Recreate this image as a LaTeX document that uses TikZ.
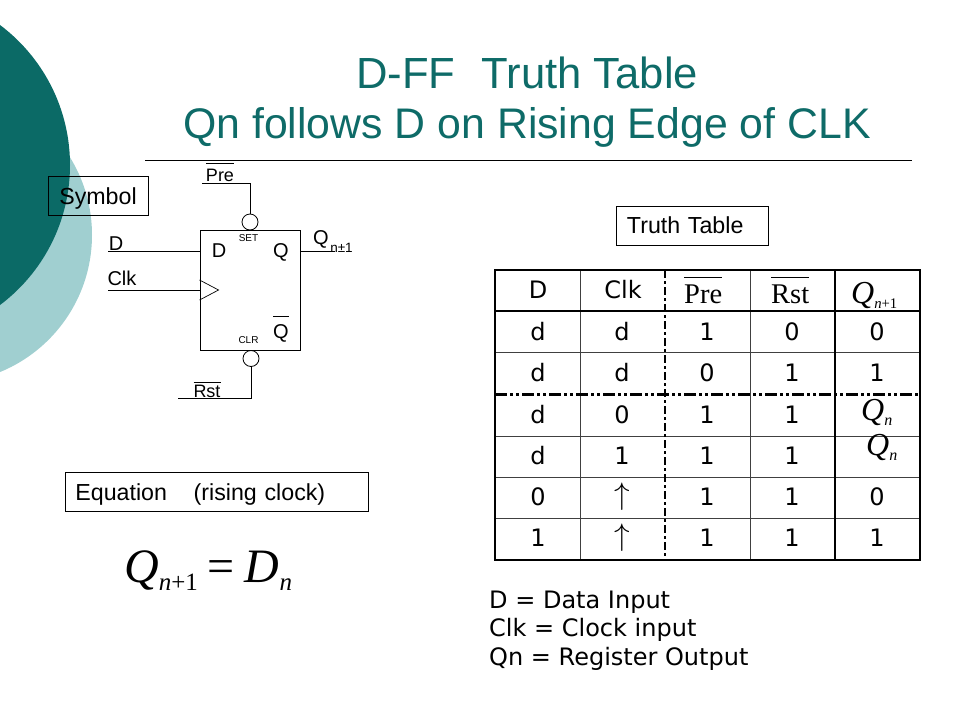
\documentclass[tikz,border=0pt]{standalone}
\usepackage{fontspec}
\setmainfont{Liberation Sans}
\newfontfamily\verdanaish{DejaVu Sans}
\newfontfamily\timesish{Liberation Serif}
\usetikzlibrary{calc}
\definecolor{darkteal}{HTML}{0B6A66}
\definecolor{lightteal}{HTML}{A0CFD0}
\definecolor{titleteal}{HTML}{0E6B68}
\newcommand{\lowtext}[2]{\raisebox{-0.18em}{\scalebox{#1}{#2}}}
\newcommand{\barred}[2]{\setbox0=\hbox{#2}\rlap{\rule[#1]{\wd0}{0.8pt}}\box0}
\newcommand{\risearrow}{\scalebox{1.25}{$\uparrow$}}
\tikzset{
  titletext/.style={text=titleteal,font=\fontsize{42.8}{52}\selectfont,inner sep=0pt},
  labelbox/.style={draw,line width=0.9pt,font=\fontsize{23.2}{26}\selectfont,inner ysep=0pt,minimum height=39pt,text height=19pt,text depth=3pt},
  wirelabel/.style={inner sep=0pt,anchor=base,font=\fontsize{20}{22}\selectfont},
  barlabel/.style={inner sep=0pt,anchor=base,font=\fontsize{18}{22}\selectfont},
  pinlabel/.style={inner sep=0pt,anchor=base,font=\fontsize{10}{11}\selectfont},
  celltext/.style={inner sep=0pt,font=\verdanaish\fontsize{24}{26}\selectfont},
  mathcell/.style={inner sep=0pt,anchor=base west,font=\timesish\fontsize{32}{34}\selectfont},
  bubble/.style={draw,circle,inner sep=0pt,minimum size=16pt,line width=0.8pt},
  wire/.style={line width=0.9pt}
}
\begin{document}
\begin{tikzpicture}[x=1pt,y=-1pt]
\useasboundingbox (0,0) rectangle (960,720);
\begin{scope}
\clip (0,0) rectangle (960,720);
\fill [lightteal] (-56,235) circle [radius=148];
\fill [darkteal] (-105,165) circle [radius=175];
\end{scope}

\node (titleone) [titletext,font=\fontsize{43.6}{52}\selectfont] at (527,73) {D-FF\hspace{14pt} Truth Table};
\node (titletwo) [titletext] at (527,127) {Qn follows D on Rising Edge of CLK};
\coordinate (ruleleft) at (145,160);
\coordinate (ruleright) at (912,160);
\draw [line width=0.7pt] (ruleleft) -- (ruleright);

\node (symbolbox) [labelbox,minimum width=100pt] at (98,196) {Symbol};
\node (truthbox) [labelbox,anchor=west,inner xsep=10.5pt,text width=131pt,align=left] at (616,225.5) {Truth Table};
\node (eqnbox) [labelbox,anchor=west,inner xsep=10.5pt,text width=282pt,align=left] at (64.5,492) {Equation\hspace{19pt} (rising clock)};
\node (eqn) [inner sep=0pt,anchor=base west,font=\timesish\fontsize{48}{50}\selectfont] at (124,582) {\textit{Q}\lowtext{0.52}{\textit{n}+1}\hspace{10pt}=\hspace{10pt}\textit{D}\lowtext{0.52}{\textit{n}}};

% flip flop symbol
\node (ffbox) [draw,line width=0.9pt,minimum width=100pt,minimum height=120pt] at (250,290) {};
\node (prebubble) [bubble] at (250,222) {};
\node (rstbubble) [bubble] at (251,358.5) {};
\coordinate (prestart) at (202,183);
\coordinate (rststart) at (178,398);
\coordinate (dstart) at (108,251);
\coordinate (clkstart) at (108,290);
\coordinate (qend) at (335,251);
\coordinate (dpin) at (ffbox.west |- dstart);
\coordinate (clkpin) at (ffbox.west |- clkstart);
\coordinate (qpin) at (ffbox.east |- qend);
\draw [wire] (prestart) -| (prebubble.north);
\draw [wire] (rststart) -| (rstbubble.south);
\draw [wire] (dstart) -- (dpin);
\draw [wire] (clkstart) -- (clkpin);
\draw [wire] (qpin) -- (qend);
\draw [line width=0.7pt] ($(clkpin)+(0,-10)$) -- ($(clkpin)+(19,0)$) -- ($(clkpin)+(0,10)$);

\node (prelabel) [barlabel] at (220,181) {\barred{17pt}{Pre}};
\node (rstlabel) [barlabel] at (207,397) {\barred{14pt}{Rst}};
\node (dlabel) [wirelabel] at (116,250) {D};
\node (clklabel) [wirelabel] at (122,285) {Clk};
\node (setlabel) [pinlabel] at (248.5,241) {SET};
\node (clrlabel) [pinlabel] at (248.5,343) {CLR};
\node (dinside) [wirelabel] at (219,257) {D};
\node (qinside) [wirelabel] at (281,257.5) {Q};
\node (qbarinside) [wirelabel] at (281,338) {\barred{21pt}{Q}};
\node (qlabel) [wirelabel,anchor=base west] at (313,244) {Q\hspace{1.5pt}\raisebox{-8pt}{\fontsize{13.5}{15}\selectfont n±1}};

% truth table
\foreach \ypos in {352,436,477,518}
  \draw [line width=0.8pt,black!75] (495,\ypos) -- (920,\ypos);
\foreach \xpos in {580,750}
  \draw [line width=0.8pt,black!75] (\xpos,270) -- (\xpos,560);
\draw [line width=2.5pt] (495,311) -- (920,311);
\draw [line width=2.5pt] (835,270) -- (835,560);
\draw [line width=2.5pt,dash pattern=on 8pt off 3pt on 3pt off 3pt] (665,270) -- (665,560);
\draw [line width=3pt,dash pattern=on 12pt off 3pt on 3pt off 3pt on 3pt off 3pt] (495,394) -- (920,394);
\draw [line width=2.8pt] (495,270) rectangle (920,560);

\node (headd) [celltext] at (538,290) {D};
\node (headclk) [celltext] at (623,290) {Clk};
\node (headpre) [mathcell,font=\timesish\fontsize{28.5}{30}\selectfont] at (684,303) {\barred{25pt}{Pre}};
\node (headrst) [mathcell,font=\timesish\fontsize{28.5}{30}\selectfont] at (771,303) {\barred{25pt}{Rst}};
\node (headq) [mathcell] at (851,303) {\textit{Q}\lowtext{0.46}{\textit{n}+1}};

\foreach \ypos/\cola/\colb/\colc/\cold/\cole [count=\r] in {
    332/d/d/1/0/0, 373/d/d/0/1/1, 415/d/0/1/1/,
    456/d/1/1/1/, 497/0/{\risearrow}/1/1/0, 538/1/{\risearrow}/1/1/1} {
  \node (cella\r) [celltext] at (538,\ypos) {\cola};
  \node (cellb\r) [celltext] at (622,\ypos) {\colb};
  \node (cellc\r) [celltext] at (707,\ypos) {\colc};
  \node (celld\r) [celltext] at (792,\ypos) {\cold};
  \node (celle\r) [celltext] at (877,\ypos) {\cole};
}
\node (qnone) [mathcell] at (861,420) {\textit{Q}\lowtext{0.5}{\textit{n}}};
\node (qntwo) [mathcell] at (866,455) {\textit{Q}\lowtext{0.5}{\textit{n}}};

\node (legend) [anchor=north west,inner sep=0pt,align=left,font=\verdanaish\fontsize{24}{28.5}\selectfont] at (489,590.5) {D = Data Input\\Clk = Clock input\\Qn = Register Output};
\end{tikzpicture}
\end{document}
